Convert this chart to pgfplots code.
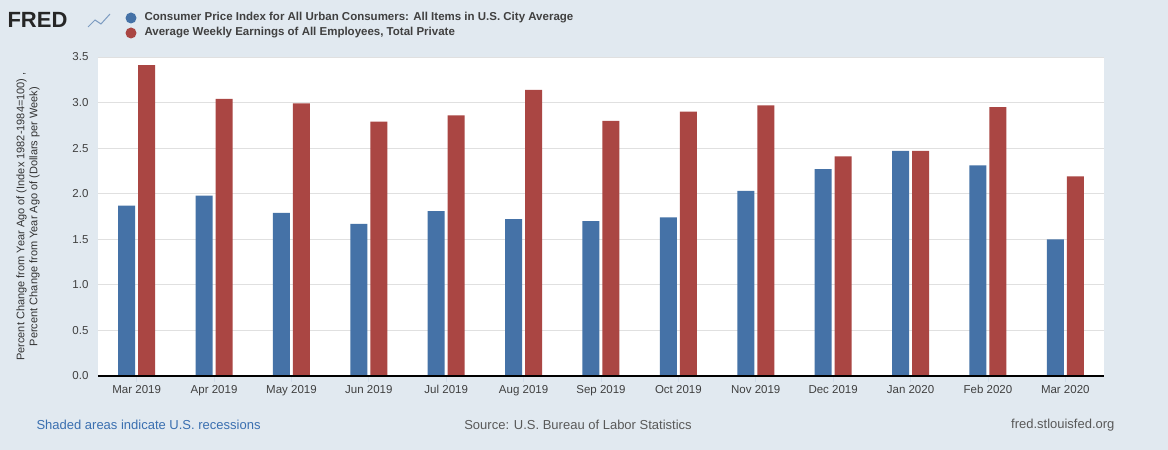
\documentclass[border=0pt]{standalone}
\usepackage{pgfplots}
\pgfplotsset{compat=1.18}
\usepackage{fontspec}
\setmainfont{Liberation Sans}
\definecolor{bg}{HTML}{E1E9F0}
\definecolor{cblue}{HTML}{4572A7}
\definecolor{cred}{HTML}{AA4643}
\definecolor{lnk}{HTML}{3A6FB0}
\begin{document}
\begin{tikzpicture}[x=1pt,y=1pt]
\fill[bg] (0,0) rectangle (1168,450);
\node[anchor=west,font=\fontsize{22}{22}\selectfont\bfseries,text=black!85] at (4,430) {FRED};
\draw[cblue!70,line width=1pt] (88,423)--(95,430)--(101,426)--(110,436);
\fill[cblue] (131,432) circle (5.5);
\fill[cred] (131,417) circle (5.5);
\node[anchor=west,font=\fontsize{11.5}{12}\selectfont\bfseries,text=black!75] at (141,432) {Consumer Price Index for All Urban Consumers: All Items in U.S. City Average};
\node[anchor=west,font=\fontsize{11.5}{12}\selectfont\bfseries,text=black!75] at (141,417) {Average Weekly Earnings of All Employees, Total Private};
\begin{axis}[at={(98pt,74pt)},anchor=south west,scale only axis,width=1006pt,height=319pt,
  axis background/.style={fill=white},
  ybar,bar width=17pt,
  xmin=-0.5,xmax=12.5,ymin=0,ymax=3.5,
  xtick={0,...,12},
  xticklabels={Mar 2019,Apr 2019,May 2019,Jun 2019,Jul 2019,Aug 2019,Sep 2019,Oct 2019,Nov 2019,Dec 2019,Jan 2020,Feb 2020,Mar 2020},
  ytick={0,0.5,...,3.5},
  yticklabel style={/pgf/number format/.cd,fixed,fixed zerofill,precision=1},
  /pgf/number format/assume math mode=true,
  ticklabel style={font=\fontsize{11.5}{11.5}\selectfont,text=black!75},
  ymajorgrids,grid style={black!12,line width=0.8pt},
  axis line style={draw=none},
  xtick style={draw=cblue!25,line width=0.8pt},
  xtick pos=bottom, ytick style={draw=none},
  major tick length=6pt,
  tick align=outside,
  ylabel={Percent Change from Year Ago of (Index 1982-1984=100) ,\\ Percent Change from Year Ago of (Dollars per Week)},
  ylabel style={align=center,font=\fontsize{11}{13}\selectfont,text=black!80},
  ylabel shift=26pt,
  clip=false]
\addplot[fill=cblue,draw=none,bar shift=-10pt] coordinates {(0,1.87)(1,1.98)(2,1.79)(3,1.67)(4,1.81)(5,1.72)(6,1.70)(7,1.74)(8,2.03)(9,2.27)(10,2.47)(11,2.31)(12,1.50)};
\addplot[fill=cred,draw=none,bar shift=10pt] coordinates {(0,3.41)(1,3.04)(2,2.99)(3,2.79)(4,2.86)(5,3.14)(6,2.80)(7,2.90)(8,2.97)(9,2.41)(10,2.47)(11,2.95)(12,2.19)};
\draw[black,line width=2pt] (axis cs:-0.5,0)--(axis cs:12.5,0);
\end{axis}
\node[anchor=west,font=\fontsize{13}{13}\selectfont,text=lnk] at (33,25) {Shaded areas indicate U.S. recessions};
\node[font=\fontsize{13}{13}\selectfont,text=black!65] at (578,25) {Source: U.S. Bureau of Labor Statistics};
\node[anchor=east,font=\fontsize{13}{13}\selectfont,text=black!65] at (1118,25) {fred.stlouisfed.org};
\end{tikzpicture}
\end{document}
